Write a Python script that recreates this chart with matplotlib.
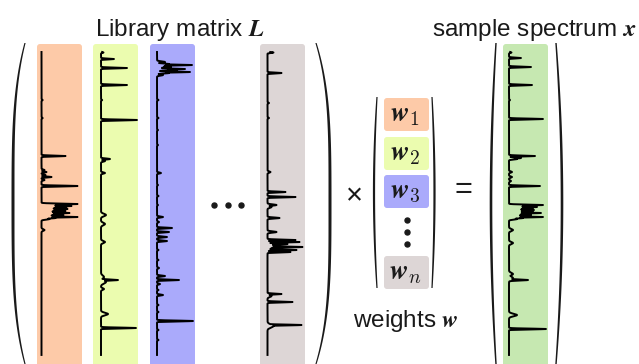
"""Diagram: sample spectrum = library matrix L x weights w."""

import matplotlib.pyplot as plt
import numpy as np
from matplotlib.patches import FancyBboxPatch

plt.rcParams["font.family"] = ["Liberation Sans", "DejaVu Sans"]
plt.rcParams["mathtext.fontset"] = "cm"

# spectra: peak position along the trace (px from its top), height (px), width (px)
ORANGE_POS = [48, 66, 104, 118, 120, 123, 125, 128, 134,
              152, 153, 154, 155, 156, 157, 158, 159, 160, 161, 162, 163, 164, 165, 166, 167,
              159, 178]
ORANGE_H = [1.2, 1.2, 24, 3, 5, 4, 10, 3, 36,
            36, 22, 30, 25, 20, 26, 22, 24, 18, 28, 20, 22, 16, 36, 14, 8,
            6, 3]
ORANGE_W = [0.4, 0.4, 0.4, 0.5, 0.5, 0.5, 0.4, 0.5, 0.4,
            0.4, 0.5, 0.4, 0.5, 0.5, 0.4, 0.5, 0.4, 0.5, 0.4, 0.5, 0.4, 0.5, 0.4, 0.5, 0.6,
            3, 0.8]

YELLOW_POS = [0.5, 7, 16, 33, 48, 68, 107, 109, 121, 163, 172, 190, 225, 228, 230, 237, 262, 276]
YELLOW_H = [2.5, 13, 26, 26, 1.2, 36, 9, 4, 4, 5, 4, 4, 3, 17, 5, 3, 7, 35]
YELLOW_W = [0.4, 0.4, 0.4, 0.4, 0.4, 0.4, 0.5, 0.6, 0.6, 1.2, 1.2, 1.0, 1.5, 0.5, 1.5, 0.8, 1.2, 0.4]

BLUE_POS = [10, 12, 13, 14, 15, 17, 18, 20, 21, 23, 16,
            48, 66, 78, 93, 121, 133, 144, 153, 165, 170, 176, 180, 185, 189,
            198, 208, 216, 224, 228, 232, 238, 243, 253, 260, 269, 278, 288]
BLUE_H = [8, 12, 35, 10, 14, 28, 20, 33, 12, 6, 5,
          1.5, 1.5, 1, 1, 4, 1, 1.5, 1, 6, 2, 15, 12, 10, 10,
          1.5, 1.5, 2, 8, 22, 3, 1.5, 6, 1.5, 1.5, 36, 1.5, 1.5]
BLUE_W = [0.6, 0.5, 0.4, 0.5, 0.5, 0.4, 0.4, 0.4, 0.5, 0.6, 3,
          0.4, 0.4, 0.4, 0.4, 0.5, 0.4, 0.4, 0.4, 0.5, 0.5, 0.4, 0.4, 0.5, 0.5,
          0.4, 0.4, 0.5, 0.5, 0.4, 0.5, 0.4, 0.5, 0.4, 0.4, 0.4, 0.4, 0.4]

GREY_POS = [0.5, 21, 51, 66, 120, 140, 145, 153, 155, 166, 180,
            188, 190, 192, 195, 198, 200, 194, 242, 244, 250, 273, 274]
GREY_H = [6, 14, 1.5, 1.5, 3, 18, 28, 9, 4, 12, 9,
          28, 32, 20, 35, 29, 23, 6, 14, 4, 25, 34, 6]
GREY_W = [0.4, 0.4, 0.4, 0.4, 0.6, 0.4, 0.4, 0.6, 0.8, 0.5, 0.6,
          0.4, 0.4, 0.5, 0.4, 0.4, 0.4, 2.5, 0.4, 1.0, 0.4, 0.4, 1.5]

SAMPLE_POS = [0.5, 6, 15, 33, 48, 67, 104, 106, 107, 120, 125, 129, 134,
              153, 154, 155, 156, 157, 158, 159, 160, 161, 162, 163, 164, 165, 166, 167,
              160, 178, 191, 222, 226, 228, 263, 277]
SAMPLE_H = [2.5, 12, 22, 23, 1, 34, 26, 12, 8, 3, 3, 2, 31,
            34, 22, 28, 24, 20, 25, 22, 24, 32, 20, 22, 18, 34, 14, 8,
            6, 4, 4, 4, 4, 19, 8, 37]
SAMPLE_W = [0.4, 0.4, 0.4, 0.4, 0.4, 0.4, 0.4, 0.5, 0.5, 0.6, 0.6, 0.6, 0.4,
            0.4, 0.5, 0.4, 0.5, 0.5, 0.4, 0.5, 0.4, 0.4, 0.5, 0.4, 0.5, 0.4, 0.5, 0.6,
            3, 1.0, 1.0, 1.2, 1.5, 0.5, 1.2, 0.4]

STRIP_COLORS = ["#fdcaa8", "#ebfcaf", "#aaaafb", "#ddd6d6"]
SAMPLE_COLOR = "#c6e8b1"
WEIGHT_LABELS = [r"$\boldsymbol{w}_1$", r"$\boldsymbol{w}_2$",
                 r"$\boldsymbol{w}_3$", r"$\boldsymbol{w}_n$"]

INK = "#1a1a1a"


def strip(ax, left, color, top=44, width=45, bottom=372):
    ax.add_patch(FancyBboxPatch((left, top), width, bottom - top,
                                boxstyle="round,pad=0,rounding_size=3",
                                fc=color, ec="none", zorder=1))


def trace(ax, x0, pos, hgt, wid, y_top=52, y_bot=355):
    y = np.arange(0, y_bot - y_top, 0.05)
    x = np.zeros_like(y)
    for p, h, w in zip(pos, hgt, wid):
        x = np.maximum(x, h * np.exp(-0.5 * ((y - p) / w) ** 2))
    ax.plot(x0 + x, y_top + y, color="black", lw=1.4, zorder=3)


def paren(ax, x_end, y0, y1, bulge, side, thick=3.0, thin=1.2, p=3.5):
    y = np.linspace(y0, y1, 300)
    s = (y - (y0 + y1) / 2) / ((y1 - y0) / 2)
    off = bulge * (1 - np.abs(s) ** p) * (-1 if side == "left" else 1)
    t = thin + (thick - thin) * (1 - s ** 2)
    xc = x_end + off
    ax.fill(np.r_[xc - t / 2, (xc + t / 2)[::-1]], np.r_[y, y[::-1]],
            color=INK, lw=0, zorder=4)


fig = plt.figure(figsize=(6.39, 3.64), dpi=100)
ax = fig.add_axes([0, 0, 1, 1])
ax.set_xlim(0, 639)
ax.set_ylim(364, 0)
ax.axis("off")

# library matrix columns
lefts = [37, 93, 150, 260]
offsets = [4.5, 8, 7, 7.5]
spectra = [(ORANGE_POS, ORANGE_H, ORANGE_W), (YELLOW_POS, YELLOW_H, YELLOW_W),
           (BLUE_POS, BLUE_H, BLUE_W), (GREY_POS, GREY_H, GREY_W)]
for left, off, col, (pos, h, w) in zip(lefts, offsets, STRIP_COLORS, spectra):
    strip(ax, left, col)
    trace(ax, left + off, pos, h, w)

ax.plot([214, 227.5, 241], [205, 205, 205], "o", color=INK, ms=3.6, zorder=4)
paren(ax, 25, 43, 364, 12, "left")
paren(ax, 316, 43, 364, 14, "right")
ax.text(180, 36, r"Library matrix $\boldsymbol{L}$", ha="center", va="baseline",
        fontsize=17.5, color=INK)

# weights vector
ax.text(354, 196, "×", ha="center", va="center", fontsize=21, color=INK)
box_tops = [98, 137, 175, 256]
for top, col, lab in zip(box_tops, STRIP_COLORS, WEIGHT_LABELS):
    ax.add_patch(FancyBboxPatch((384, top), 45, 33,
                                boxstyle="round,pad=0,rounding_size=3",
                                fc=col, ec="none", zorder=1))
    ax.text(405, top + 17, lab, ha="center", va="center", fontsize=20, color=INK)
ax.plot([407, 407, 407], [220, 232, 244], "o", color=INK, ms=3.6, zorder=4)
paren(ax, 377, 97, 288, 3, "left", thick=2.2, thin=1.2, p=2)
paren(ax, 432, 97, 288, 2.5, "right", thick=2.2, thin=1.2, p=2)
ax.text(406, 327, r"weights $\boldsymbol{w}$", ha="center", va="baseline",
        fontsize=17.5, color=INK)

ax.text(463, 190, "=", ha="center", va="center", fontsize=22, color=INK)

# sample spectrum
strip(ax, 503, SAMPLE_COLOR)
trace(ax, 509, SAMPLE_POS, SAMPLE_H, SAMPLE_W)
paren(ax, 496, 43, 364, 5, "left", thick=2.6, thin=1.4, p=2)
paren(ax, 556, 43, 364, 6, "right", thick=2.6, thin=1.4, p=2)
ax.text(534, 36, r"sample spectrum $\boldsymbol{x}$", ha="center", va="baseline",
        fontsize=17.5, color=INK)

fig.savefig("out.png", dpi=100)
